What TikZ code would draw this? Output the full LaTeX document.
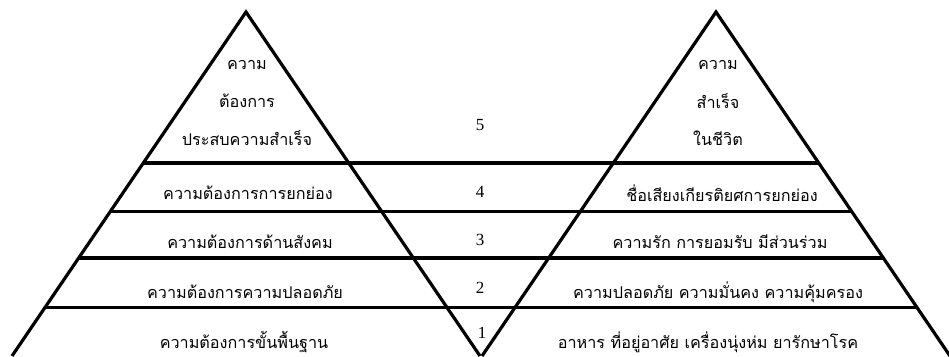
\documentclass[tikz,border=0pt]{standalone}
\usepackage{fontspec}
\setmainfont{Liberation Serif}
\newfontfamily\thaifont[Script=Thai]{Loma}
\usetikzlibrary{calc}
\tikzset{
  edge/.style={line width=3.2pt, line join=miter},
  band/.style={line width=3.2pt},
  thai/.style={font=\thaifont\fontsize{16.2}{19}\selectfont, inner sep=0pt, anchor=center},
  num/.style={font=\fontsize{17}{19}\selectfont, inner sep=0pt, anchor=center}
}
\begin{document}
\begin{tikzpicture}[x=1pt,y=-1pt]
\useasboundingbox (0,0) rectangle (949,356);
% apexes and base corners
\coordinate (LA) at (246,12);
\coordinate (LB) at (12,356);
\coordinate (LC) at (480,356);
\coordinate (RA) at (716,12);
\coordinate (RB) at (482,356);
\coordinate (RC) at (950,356);
\draw[edge] (LB) -- (LA) -- (LC);
\draw[edge] (RB) -- (RA) -- (RC);
% horizontal band lines
\foreach \t/\n in {0.439/1,0.581/2,0.715/3,0.860/4}{
  \coordinate (hl\n) at ($(LA)!\t!(LB)$);
  \coordinate (hr\n) at ($(RA)!\t!(RC)$);
  \draw[band] (hl\n) -- (hr\n);
}
% left pyramid texts
\node[thai] (l5a) at (247,65) {ความ};
\node[thai] (l5b) at (247,101) {ต้องการ};
\node[thai] (l5c) at (247,138) {ประสบความสำเร็จ};
\node[thai] (l4) at (248,193) {ความต้องการการยกย่อง};
\node[thai] (l3) at (250,242) {ความต้องการด้านสังคม};
\node[thai] (l2) at (245,292) {ความต้องการความปลอดภัย};
\node[thai] (l1) at (244,342) {ความต้องการขั้นพื้นฐาน};
% right pyramid texts
\node[thai] (r5a) at (718,65) {ความ};
\node[thai] (r5b) at (718,101) {สำเร็จ};
\node[thai] (r5c) at (718,138) {ในชีวิต};
\node[thai] (r4) at (722,193) {ชื่อเสียงเกียรติยศการยกย่อง};
\node[thai] (r3) at (720,242) {ความรัก การยอมรับ มีส่วนร่วม};
\node[thai] (r2) at (718,292) {ความปลอดภัย ความมั่นคง ความคุ้มครอง};
\node[thai] (r1) at (708,342) {อาหาร ที่อยู่อาศัย เครื่องนุ่งห่ม ยารักษาโรค};
% level numbers
\node[num] (n5) at (480,125) {5};
\node[num] (n4) at (480,192) {4};
\node[num] (n3) at (480,240) {3};
\node[num] (n2) at (480,288) {2};
\node[num] (n1) at (482,333) {1};
\end{tikzpicture}
\end{document}
